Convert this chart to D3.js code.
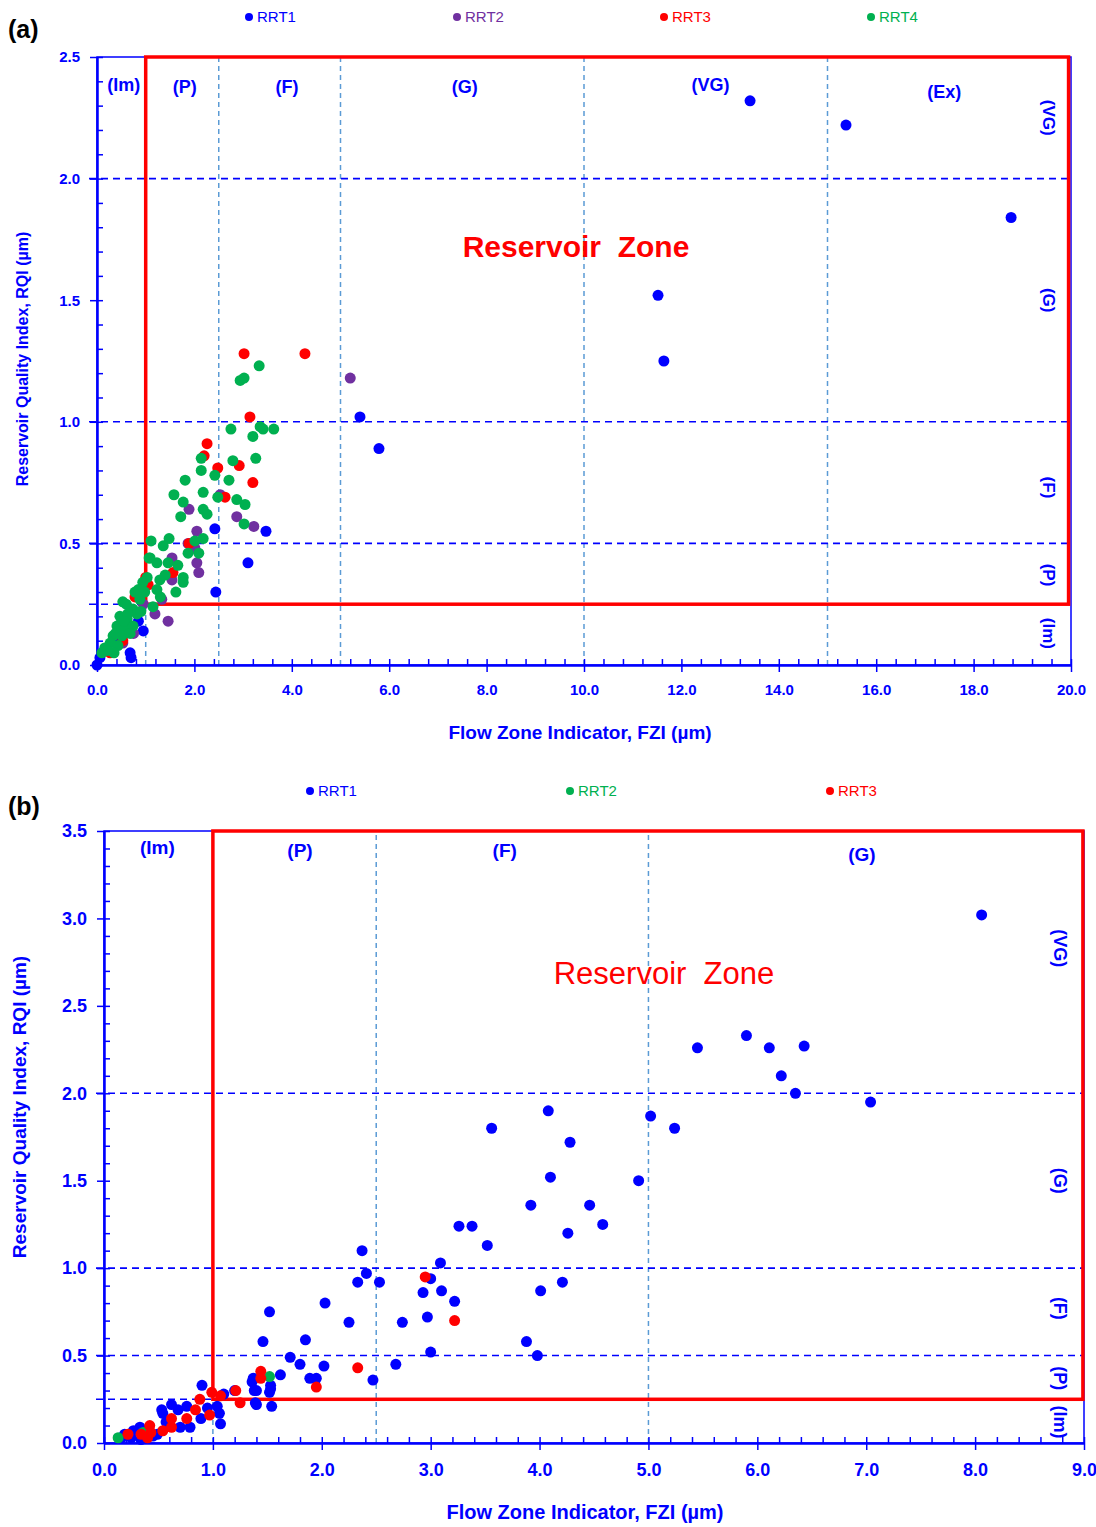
<!DOCTYPE html>
<html>
<head>
<meta charset="utf-8">
<script src="https://cdn.jsdelivr.net/npm/d3@7"></script>
<style>
  body { margin:0; background:#fff; }
  svg text { font-family: "Liberation Sans", Arial, sans-serif; }
</style>
</head>
<body>
<svg id="chart" width="1096" height="1527"></svg>
<script>
// ---- panel (a) data : [FZI, RQI]
var aNames = ["RRT1", "RRT2", "RRT3", "RRT4"];
var aRRT1 = [[13.41,2.32],[15.38,2.22],[18.77,1.84],[11.52,1.52],[11.64,1.25],[5.40,1.02],[5.79,0.89],
  [3.47,0.55],[2.42,0.56],[3.10,0.42],[2.44,0.30],[0.95,0.14],[0.68,0.05],[0.70,0.03],[0.06,0.03],
  [0.0,0.0],[0.45,0.10],[0.85,0.18]];
var aRRT2 = [[5.20,1.18],[2.53,0.70],[1.89,0.64],[2.87,0.61],[3.22,0.57],[2.05,0.55],[2.01,0.48],
  [2.05,0.42],[2.09,0.38],[1.54,0.44],[1.54,0.35],[1.33,0.27],[1.46,0.18],[1.19,0.21],[0.53,0.09],
  [1.87,0.50],[0.95,0.25],[0.75,0.13]];
var aRRT3 = [[3.02,1.28],[4.27,1.28],[3.14,1.02],[2.26,0.91],[2.20,0.86],[2.48,0.81],[2.92,0.82],
  [3.20,0.75],[2.63,0.69],[1.89,0.50],[1.56,0.38],[1.05,0.33],[0.78,0.28],[0.53,0.10],[0.27,0.05],
  [0.68,0.16],[1.00,0.36]];
var aRRT4 = [[3.33,1.23],[2.94,1.17],[3.02,1.18],[2.75,0.97],[3.35,0.98],[3.41,0.97],[3.63,0.97],
  [3.20,0.94],[2.14,0.85],[2.79,0.84],[3.26,0.85],[2.14,0.80],[2.42,0.78],[2.71,0.76],[1.81,0.76],
  [1.58,0.70],[2.18,0.71],[2.48,0.69],[1.77,0.67],[2.87,0.68],[3.04,0.66],[2.18,0.64],[2.26,0.62],
  [1.72,0.61],[3.02,0.58],[2.18,0.52],[2.01,0.51],[1.11,0.51],[1.48,0.52],[1.36,0.49],[2.09,0.46],
  [1.87,0.46],[1.07,0.44],[1.23,0.42],[1.46,0.42],[1.66,0.41],[1.40,0.37],[1.03,0.36],[1.77,0.36],
  [1.09,0.44],[1.77,0.34],[1.62,0.30],[1.29,0.35],[1.23,0.31],[0.94,0.34],[0.78,0.30],[0.53,0.26],
  [0.88,0.27],[0.74,0.23],[0.47,0.20],[0.62,0.19],[0.82,0.21],[0.41,0.16],[0.57,0.15],[0.74,0.16],
  [0.33,0.12],[0.51,0.12],[0.68,0.13],[0.27,0.09],[0.43,0.08],[0.16,0.07],[0.10,0.05],[0.35,0.05],
  [0.60,0.25],[0.90,0.22],[1.15,0.24],[1.30,0.28],[0.98,0.30],[0.85,0.31],[0.63,0.21],[0.38,0.13],
  [0.55,0.18],[0.22,0.06]];
var aXTicks = [0, 2, 4, 6, 8, 10, 12, 14, 16, 18, 20];
var aYTicks = [0, 0.5, 1.0, 1.5, 2.0, 2.5];
var aZonesTop = [["(Im)",0.55,2.36],["(P)",1.8,2.35],["(F)",3.9,2.35],["(G)",7.55,2.35],["(VG)",12.6,2.36],["(Ex)",17.4,2.33]];
var aZonesRight = [["(VG)",2.25],["(G)",1.5],["(F)",0.73],["(P)",0.37],["(Im)",0.13]];

// ---- panel (b) data : [FZI, RQI]
var bNames = ["RRT1", "RRT2", "RRT3"];
var bRRT1 = [[8.06,3.02],[5.90,2.33],[6.11,2.26],[6.43,2.27],[5.45,2.26],[6.22,2.10],[6.35,2.00],
  [7.04,1.95],[4.08,1.90],[5.02,1.87],[3.56,1.80],[5.24,1.80],[4.28,1.72],[4.10,1.52],[4.91,1.50],
  [3.92,1.36],[4.46,1.36],[3.26,1.24],[3.38,1.24],[4.58,1.25],[4.26,1.20],[3.52,1.13],[2.37,1.10],
  [3.09,1.03],[2.41,0.97],[2.03,0.80],[2.33,0.92],[2.53,0.92],[3.00,0.94],[2.93,0.86],[3.10,0.87],
  [4.01,0.87],[4.21,0.92],[3.22,0.81],[1.52,0.75],[2.25,0.69],[2.97,0.72],[2.74,0.69],[1.85,0.59],
  [1.46,0.58],[3.88,0.58],[3.98,0.50],[3.00,0.52],[2.68,0.45],[2.02,0.44],[2.47,0.36],[1.71,0.49],
  [1.80,0.45],[1.89,0.37],[1.95,0.37],[1.62,0.39],[1.53,0.33],[1.52,0.29],[1.37,0.37],[1.38,0.30],
  [1.54,0.21],[1.39,0.23],[0.90,0.33],[1.36,0.35],[1.40,0.30],[1.53,0.31],[1.40,0.22],[1.20,0.30],
  [1.10,0.28],[0.62,0.22],[0.53,0.19],[0.54,0.17],[0.68,0.19],[0.76,0.21],[0.95,0.20],[1.04,0.21],
  [1.06,0.17],[1.07,0.11],[0.57,0.12],[0.70,0.09],[0.79,0.09],[0.89,0.14],[0.49,0.05],[0.33,0.09],
  [0.27,0.07],[0.19,0.05],[0.38,0.06],[0.25,0.03],[0.34,0.02],[0.16,0.03],[0.45,0.04]];
var bRRT2 = [[0.13,0.03],[0.36,0.06],[1.52,0.38]];
var bRRT3 = [[2.95,0.95],[3.22,0.70],[2.33,0.43],[1.95,0.32],[1.44,0.41],[1.44,0.37],[1.21,0.30],
  [1.25,0.23],[1.07,0.27],[0.99,0.29],[0.88,0.25],[0.84,0.19],[0.97,0.16],[0.76,0.14],[0.62,0.14],
  [0.62,0.09],[0.54,0.07],[0.42,0.10],[0.43,0.06],[0.34,0.05],[0.22,0.05],[0.40,0.03]];
var bXTicks = [0, 1, 2, 3, 4, 5, 6, 7, 8, 9];
var bYTicks = [0, 0.5, 1.0, 1.5, 2.0, 2.5, 3.0, 3.5];
var bZonesTop = [["(Im)",0.49,3.37],["(P)",1.80,3.35],["(F)",3.68,3.35],["(G)",6.96,3.33]];
var bZonesRight = [["(VG)",2.83],["(G)",1.5],["(F)",0.77],["(P)",0.37],["(Im)",0.12]];

var hLines = [0.25, 0.5, 1.0, 2.0];

var BLUE = "#0000ff", PURPLE = "#7030a0", RED = "#ff0000", GREEN = "#00b050";

var svg = d3.select("#chart");

function drawPanel(cfg) {

  var x = d3.scaleLinear().domain([0, cfg.xMax]).range([cfg.left, cfg.right]);
  var y = d3.scaleLinear().domain([0, cfg.yMax]).range([cfg.bottom, cfg.top]);
  var g = svg.append("g");

  // panel letter
  g.append("text").attr("x", 8).attr("y", cfg.letterY)
    .style("font-size", "25px").style("font-weight", "bold").attr("fill", "#000")
    .text(cfg.letter);

  // legend
  cfg.series.forEach(function(s, i){
    var lx = cfg.legendX[i];
    g.append("circle").attr("cx", lx).attr("cy", cfg.legendY).attr("r", 4).attr("fill", s.color);
    g.append("text").attr("x", lx + 8).attr("y", cfg.legendY + 5)
      .style("font-size", "15px").attr("fill", s.color).text(s.name);
  });

  // grid lines
  g.selectAll(".vl").data(cfg.vLines).enter().append("line")
    .attr("x1", function(d){ return x(d); }).attr("x2", function(d){ return x(d); })
    .attr("y1", y(0)).attr("y2", cfg.top)
    .attr("stroke", "#5b9bd5").attr("stroke-width", 1.5).attr("stroke-dasharray", "5,4");

  g.selectAll(".hl").data(hLines).enter().append("line")
    .attr("x1", cfg.left - 8).attr("x2", cfg.right)
    .attr("y1", function(d){ return y(d); }).attr("y2", function(d){ return y(d); })
    .attr("stroke", BLUE).attr("stroke-width", 1.6).attr("stroke-dasharray", "7,5");

  // frame
  g.append("rect").attr("x", cfg.left).attr("y", cfg.top)
    .attr("width", cfg.right - cfg.left).attr("height", cfg.bottom - cfg.top)
    .attr("fill", "none").attr("stroke", BLUE).attr("stroke-width", 1.5);

  // axes
  var fmt = d3.format(".1f");
  var xMajor = g.append("g").attr("transform", "translate(0," + cfg.bottom + ")")
    .call(d3.axisBottom(x).tickValues(cfg.xTicks).tickFormat(fmt).tickSizeInner(7).tickSizeOuter(0).tickPadding(cfg.xPad));
  var xMinor = g.append("g").attr("transform", "translate(0," + cfg.bottom + ")")
    .call(d3.axisTop(x).tickValues(d3.range(0, cfg.xMax + 1e-6, cfg.xMinor)).tickFormat("").tickSizeInner(6).tickSizeOuter(0));
  var yMajor = g.append("g").attr("transform", "translate(" + cfg.left + ",0)")
    .call(d3.axisLeft(y).tickValues(cfg.yTicks).tickFormat(fmt).tickSizeInner(7).tickSizeOuter(0).tickPadding(cfg.yPad));
  var yMinor = g.append("g").attr("transform", "translate(" + cfg.left + ",0)")
    .call(d3.axisRight(y).tickValues(d3.range(0, cfg.yMax + 1e-6, 0.1)).tickFormat("").tickSizeInner(6).tickSizeOuter(0));

  [xMajor, xMinor, yMajor, yMinor].forEach(function(a){
    a.select(".domain").attr("stroke", BLUE).attr("stroke-width", 2);
    a.selectAll(".tick line").attr("stroke", BLUE).attr("stroke-width", 1.5);
    a.selectAll(".tick text").attr("fill", BLUE)
      .style("font-size", cfg.tickFont).style("font-weight", "bold")
      .style("font-family", "'Liberation Sans', Arial, sans-serif");
  });

  // reservoir zone box
  g.append("rect").attr("x", x(1)).attr("y", y(cfg.yMax))
    .attr("width", x(cfg.boxRight) - x(1)).attr("height", y(0.25) - y(cfg.yMax))
    .attr("fill", "none").attr("stroke", RED).attr("stroke-width", 3.5);

  g.append("text").attr("x", cfg.zoneLabel[0]).attr("y", cfg.zoneLabel[1])
    .attr("text-anchor", "middle").attr("fill", RED)
    .style("font-size", cfg.zoneLabel[2]).style("font-weight", cfg.zoneLabel[3])
    .style("white-space", "pre").text("Reservoir  Zone");

  // zone labels
  g.selectAll(".zt").data(cfg.zonesTop).enter().append("text")
    .attr("x", function(d){ return x(d[1]); }).attr("y", function(d){ return y(d[2]); })
    .attr("text-anchor", "middle").attr("fill", BLUE)
    .style("font-size", cfg.zoneFont).style("font-weight", "bold")
    .text(function(d){ return d[0]; });

  g.selectAll(".zr").data(cfg.zonesRight).enter().append("text")
    .attr("transform", function(d){ return "translate(" + cfg.rightLabelX + "," + y(d[1]) + ") rotate(90)"; })
    .attr("text-anchor", "middle").attr("fill", BLUE)
    .style("font-size", cfg.rightFont).style("font-weight", "bold")
    .text(function(d){ return d[0]; });

  // points
  cfg.series.forEach(function(s){
    g.append("g").selectAll("circle").data(s.values).enter().append("circle")
      .attr("cx", function(d){ return x(d[0]); })
      .attr("cy", function(d){ return y(d[1]); })
      .attr("r", cfg.pointR).attr("fill", s.color);
  });

  // axis titles
  g.append("text").attr("x", cfg.xTitle[0]).attr("y", cfg.xTitle[1])
    .attr("text-anchor", "middle").attr("fill", BLUE)
    .style("font-size", cfg.xTitle[2]).style("font-weight", "bold")
    .text("Flow Zone Indicator, FZI (\u00b5m)");

  g.append("text").attr("transform", "translate(" + cfg.yTitle[0] + "," + cfg.yTitle[1] + ") rotate(-90)")
    .attr("text-anchor", "middle").attr("fill", BLUE)
    .style("font-size", cfg.yTitle[2]).style("font-weight", "bold")
    .text("Reservoir Quality Index, RQI (\u00b5m)");
}

drawPanel({
  letter: "(a)", letterY: 38,
  left: 97, right: 1071, top: 57, bottom: 665,
  xMax: 20, yMax: 2.5, xMinor: 0.4, boxRight: 19.95,
  xTicks: aXTicks, yTicks: aYTicks, xPad: 12, yPad: 10, tickFont: "15px",
  vLines: [1.0, 2.5, 5.0, 10.0, 15.0],
  legendX: [249, 457, 664, 871], legendY: 17,
  series: [
    {name: aNames[0], color: BLUE, values: aRRT1},
    {name: aNames[1], color: PURPLE, values: aRRT2},
    {name: aNames[2], color: RED, values: aRRT3},
    {name: aNames[3], color: GREEN, values: aRRT4}
  ],
  pointR: 5.5,
  zoneLabel: [576, 257, "30px", "bold"],
  zonesTop: aZonesTop, zoneFont: "18px",
  zonesRight: aZonesRight, rightLabelX: 1043, rightFont: "17px",
  xTitle: [580, 739, "19px"], yTitle: [28, 359, "16px"]
});

drawPanel({
  letter: "(b)", letterY: 815,
  left: 104, right: 1084, top: 831, bottom: 1443,
  xMax: 9, yMax: 3.5, xMinor: 0.2, boxRight: 8.99,
  xTicks: bXTicks, yTicks: bYTicks, xPad: 13, yPad: 10, tickFont: "18px",
  vLines: [1.0, 2.5, 5.0],
  legendX: [310, 570, 830], legendY: 791,
  series: [
    {name: bNames[0], color: BLUE, values: bRRT1},
    {name: bNames[1], color: GREEN, values: bRRT2},
    {name: bNames[2], color: RED, values: bRRT3}
  ],
  pointR: 5.5,
  zoneLabel: [664, 984, "31px", "normal"],
  zonesTop: bZonesTop, zoneFont: "19px",
  zonesRight: bZonesRight, rightLabelX: 1054, rightFont: "18px",
  xTitle: [585, 1519, "20px"], yTitle: [26, 1107, "19px"]
});
</script>
</body>
</html>
